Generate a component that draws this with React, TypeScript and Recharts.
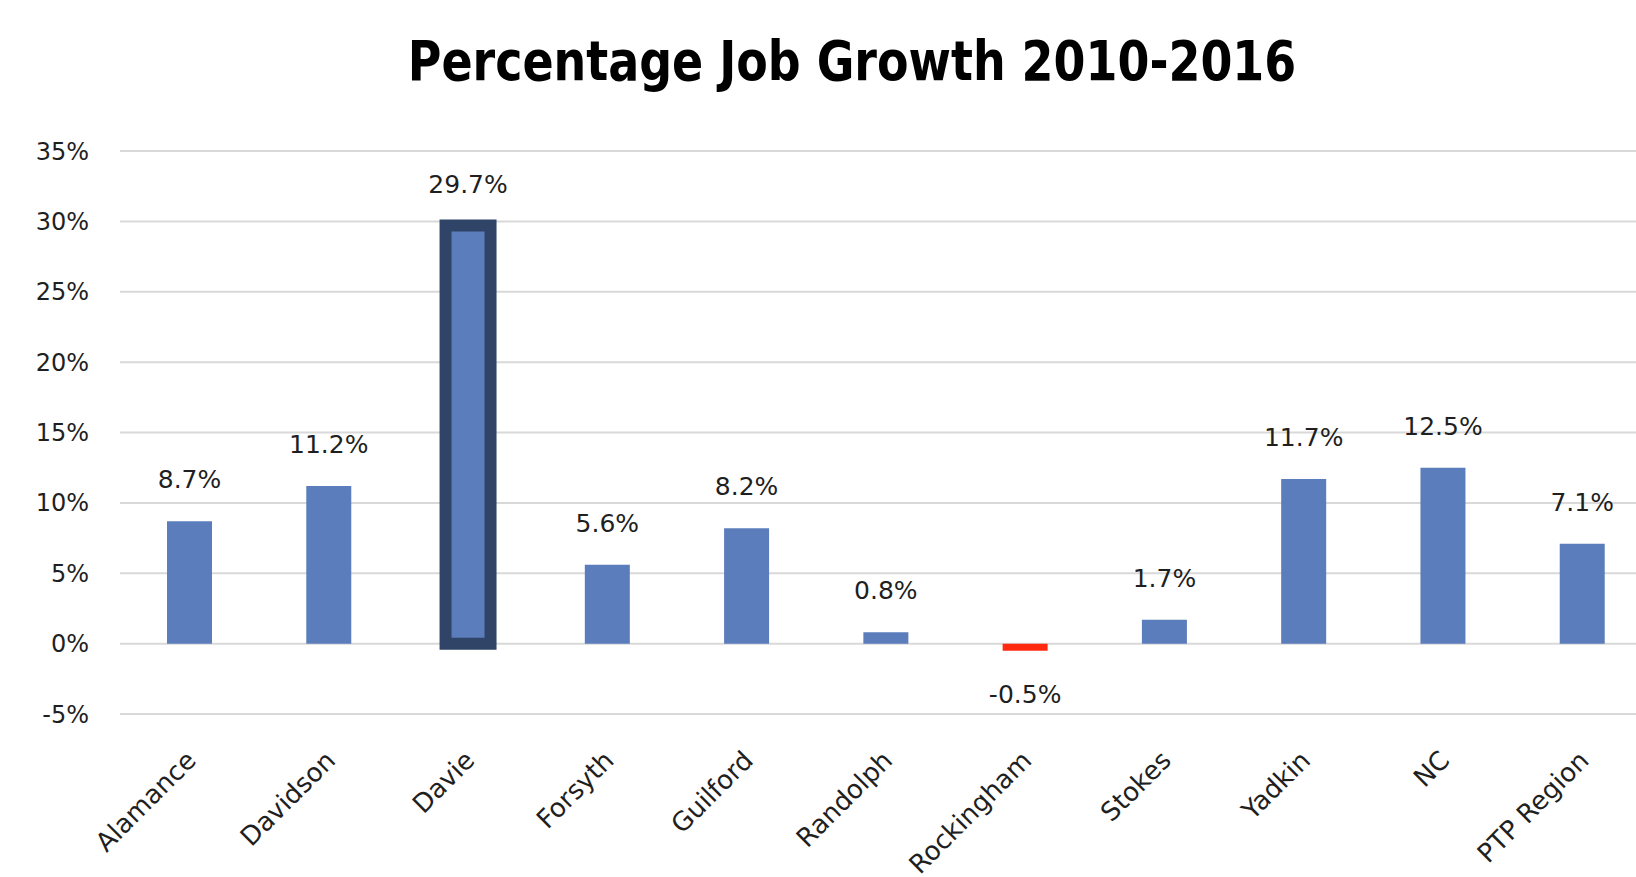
import type { ReactElement } from 'react'
import { Bar, BarChart, CartesianGrid, Cell, LabelList, XAxis, YAxis } from 'recharts'

const CATEGORIES = ['Alamance', 'Davidson', 'Davie', 'Forsyth', 'Guilford', 'Randolph', 'Rockingham', 'Stokes', 'Yadkin', 'NC', 'PTP Region']
const GROWTH = [8.7, 11.2, 29.7, 5.6, 8.2, 0.8, -0.5, 1.7, 11.7, 12.5, 7.1]
const Y_TICKS = [-5, 0, 5, 10, 15, 20, 25, 30, 35]
const HIGHLIGHT = 'Davie'

const BAR_FILL = '#5B7DBB'
const NEG_FILL = '#FF2A10'
const HIGHLIGHT_STROKE = '#2F4467'
const GRID = '#D9D9D9'
const TEXT = '#1F1F1F'
const FONT = '"DejaVu Sans", Tahoma, sans-serif'

const data = CATEGORIES.map((name, i) => ({ name, value: GROWTH[i] }))

function XTick(props: any): ReactElement {
  const { x, y, payload } = props
  const ax = x + 8
  const ay = y + 40
  return (
    <text
      x={ax}
      y={ay}
      transform={`rotate(-45, ${ax}, ${ay})`}
      textAnchor="end"
      fill={TEXT}
      fontSize={26}
      fontFamily={FONT}
    >
      {payload.value}
    </text>
  )
}

function ValueLabel(props: any): ReactElement {
  const { x, y, width, height, value } = props
  const top = Math.min(y, y + height)
  const bottom = Math.max(y, y + height)
  const cx = x + width / 2
  const ty = value >= 0 ? top - 33 : bottom + 52
  return (
    <text x={cx} y={ty} textAnchor="middle" fill={TEXT} fontSize={25} fontFamily={FONT}>
      {`${Number(value).toFixed(1)}%`}
    </text>
  )
}

export default function App(): ReactElement {
  return (
    <div style={{ position: 'absolute', left: 0, top: 0, width: 1636, height: 877, overflow: 'hidden', background: '#fff' }}>
      <BarChart
        width={1652}
        height={900}
        data={data}
        margin={{ top: 151, right: 0, bottom: 0, left: 0 }}
        style={{ position: 'absolute', left: 0, top: 0 }}
      >
        <CartesianGrid vertical={false} stroke={GRID} strokeWidth={2} />
        <XAxis
          dataKey="name"
          height={186}
          axisLine={false}
          tickLine={false}
          interval={0}
          tick={<XTick />}
        />
        <YAxis
          width={120}
          domain={[-5, 35]}
          ticks={Y_TICKS}
          axisLine={false}
          tickLine={false}
          tickSize={0}
          tickMargin={31}
          tickFormatter={(v: number) => `${v}%`}
          tick={{ fill: TEXT, fontSize: 24, fontFamily: FONT }}
        />
        <Bar dataKey="value" barSize={45} isAnimationActive={false}>
          {data.map((d) => (
            <Cell
              key={d.name}
              fill={d.value < 0 ? NEG_FILL : BAR_FILL}
              stroke={d.name === HIGHLIGHT ? HIGHLIGHT_STROKE : 'none'}
              strokeWidth={d.name === HIGHLIGHT ? 12 : 0}
            />
          ))}
          <LabelList dataKey="value" content={<ValueLabel />} />
        </Bar>
      </BarChart>
      <div
        style={{
          position: 'absolute',
          left: 0,
          width: 1704,
          top: 26,
          textAlign: 'center',
          fontFamily: FONT,
          fontWeight: 'bold',
          fontSize: 56,
          lineHeight: '70px',
          color: '#000',
          transform: 'scaleX(0.82)',
          transformOrigin: '852px 0'
        }}
      >
        Percentage Job Growth 2010-2016
      </div>
    </div>
  )
}
